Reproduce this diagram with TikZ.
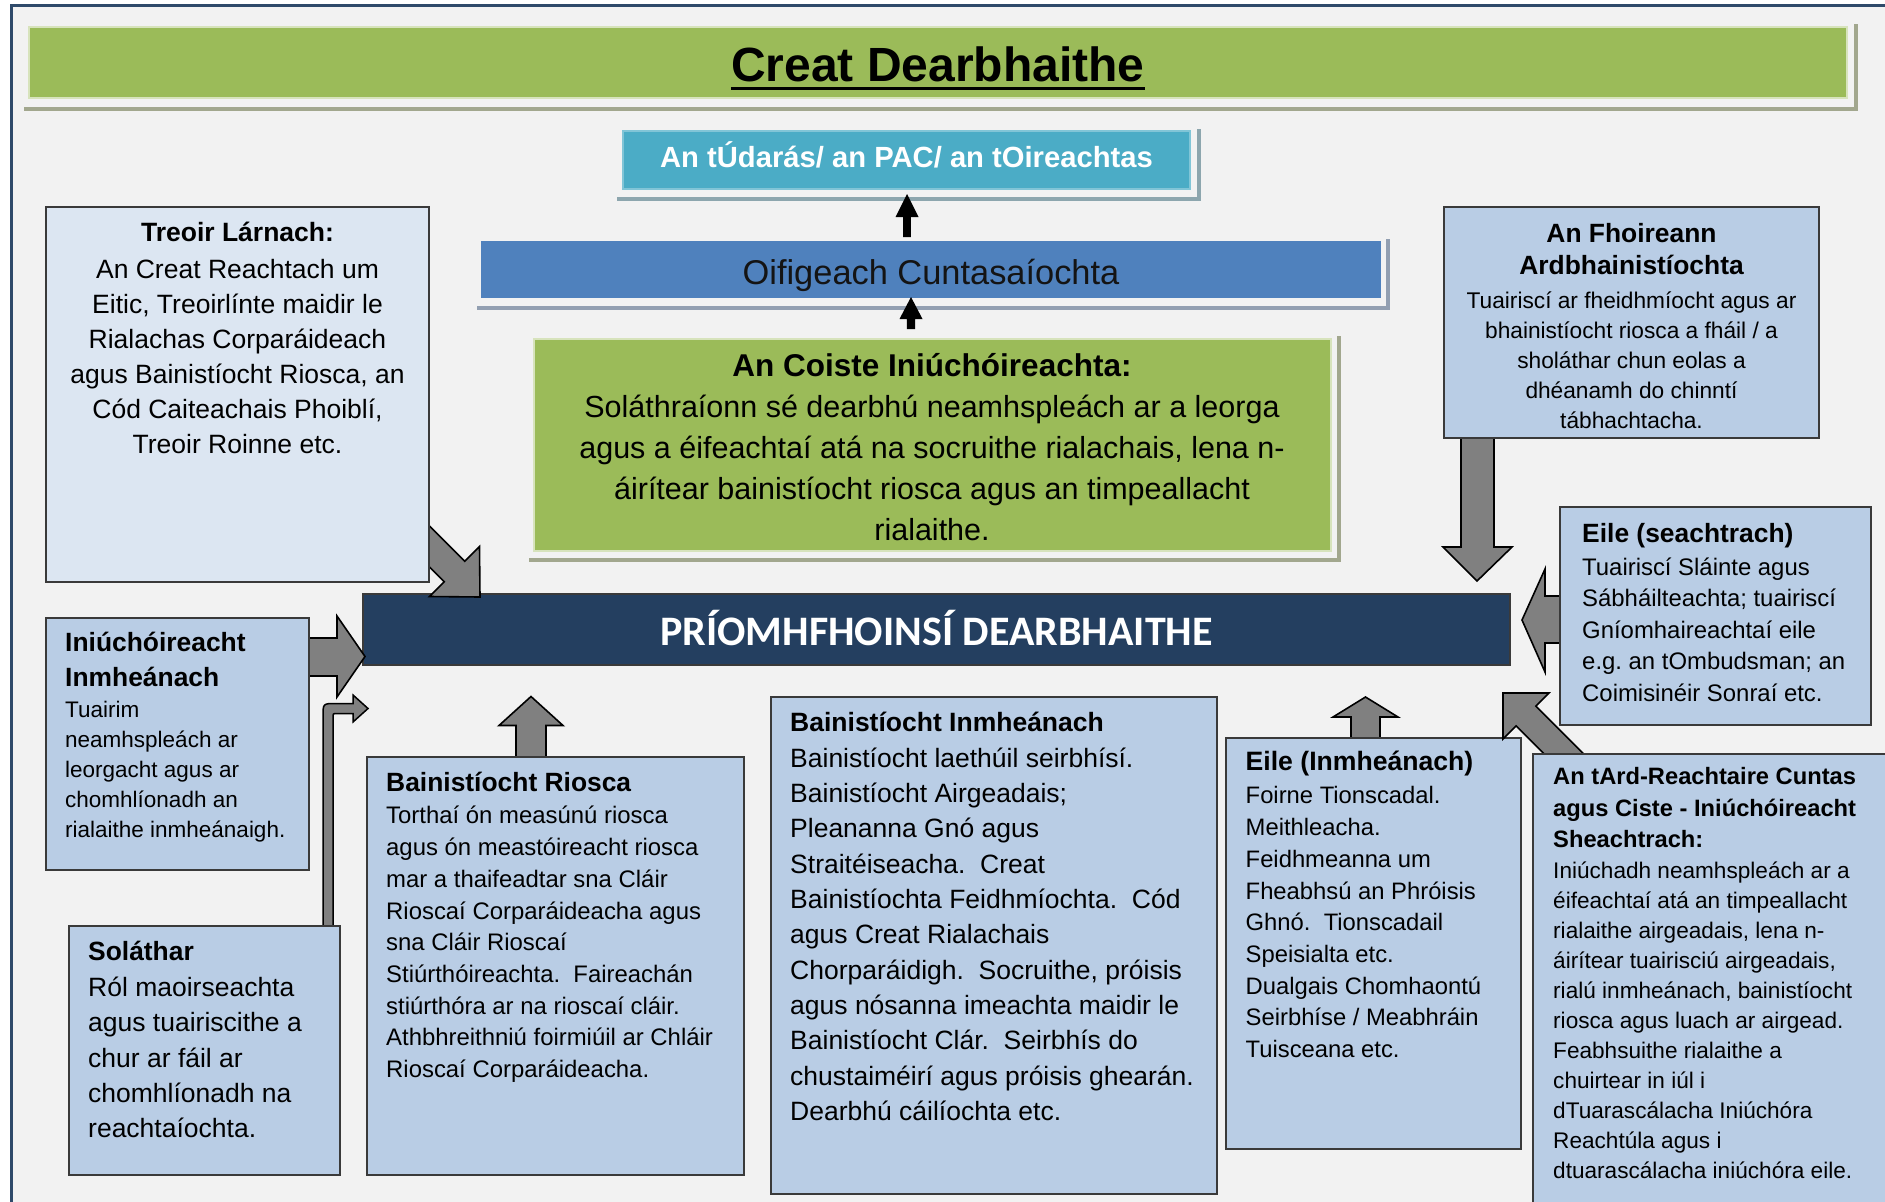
\documentclass[tikz,border=0pt]{standalone}
\usepackage{fontspec}
\setmainfont{Liberation Sans}
\newfontfamily\calibri{Carlito}
\frenchspacing
\definecolor{bg}{HTML}{F2F2F2}
\definecolor{framecol}{HTML}{2F4A6A}
\definecolor{tgreen}{HTML}{9BBB59}
\definecolor{tgreenedge}{HTML}{D7E3BC}
\definecolor{gshadow}{HTML}{A2A78E}
\definecolor{teal}{HTML}{4BACC6}
\definecolor{tshadow}{HTML}{8DA6AE}
\definecolor{oblue}{HTML}{4F81BD}
\definecolor{bshadow}{HTML}{929FB1}
\definecolor{boxblue}{HTML}{B9CDE5}
\definecolor{lightbox}{HTML}{DCE6F2}
\definecolor{navy}{HTML}{243F60}
\definecolor{agray}{HTML}{808080}
\definecolor{boxline}{HTML}{3A3A3A}
\tikzset{
  pbox/.style={draw=boxline, line width=1.5pt, fill=boxblue, anchor=north west, inner sep=0pt, outer sep=0pt},
  lbox/.style={pbox, fill=lightbox},
  garrow/.style={draw=black, line width=1.6pt, fill=agray, line join=miter},
  barrow/.style={fill=black},
  shad/.style={line width=4pt},
  txt/.style={inner sep=0pt, anchor=base west},
  ctxt/.style={inner sep=0pt, anchor=base},
}
\begin{document}
\begin{tikzpicture}[x=1pt,y=-1pt]
\useasboundingbox (0,0) rectangle (1885,1202);
\fill[white] (0,0) rectangle (1885,1202);
\fill[bg] (11,5.5) rectangle (1885,1202);
\draw[framecol, line width=3pt] (11,1202) -- (11,5.5) -- (1885,5.5);

% title bar
\draw[gshadow, shad] (24,108.5) -- (1856,108.5) -- (1856,24);
\node[pbox, fill=tgreen, draw=tgreenedge, minimum width=1818pt, minimum height=71pt] (titlebar) at (29,27) {};
\node[ctxt] (ttl) at (938,81) {\fontsize{48}{56}\selectfont\bfseries Creat Dearbhaithe};
\draw[line width=3pt] ([yshift=-7pt]ttl.base west) -- ([yshift=-7pt]ttl.base east);

% An tUdaras
\draw[tshadow, shad] (617,199) -- (1199,199) -- (1199,129);
\node[pbox, fill=teal, draw=teal!70!white, minimum width=567pt, minimum height=58pt] (udaras) at (623,131) {};
\node[ctxt, text=white] (udaras-t) at (906.5,167.5) {\fontsize{29.2}{34}\selectfont\bfseries An tÚdarás/ an PAC/ an tOireachtas};

% Oifigeach
\draw[bshadow, shad] (477,307.5) -- (1388,307.5) -- (1388,239);
\node[pbox, fill=oblue, draw=oblue, minimum width=898pt, minimum height=55pt] (oifig) at (482,242) {};
\node[ctxt, text=black!92] (oifig-t) at (931,284) {\fontsize{34.4}{40}\selectfont Oifigeach Cuntasaíochta};

% black arrows
\fill[barrow] (903.2,237) -- (903.2,217) -- (895.5,217) -- (907,194) -- (918.5,217) -- (910.8,217) -- (910.8,237) -- cycle;
\fill[barrow] (906.8,329) -- (906.8,319) -- (899.5,319) -- (911,297) -- (922.5,319) -- (915.2,319) -- (915.2,329) -- cycle;

% Coiste
\draw[gshadow, shad] (529,559.5) -- (1338.5,559.5) -- (1338.5,336);
\node[pbox, fill=tgreen, draw=tgreenedge, minimum width=797pt, minimum height=212pt] (coiste) at (534,339) {};
\node[ctxt] (coiste-t) at (932,376) {\fontsize{31.5}{38}\selectfont\bfseries An Coiste Iniúchóireachta:};
\node[ctxt] (coiste-b) at (932,417.6) {\parbox[t]{780pt}{\centering\fontsize{30.5}{40.9}\selectfont Soláthraíonn sé dearbhú neamhspleách ar a leorga\\ agus a éifeachtaí atá na socruithe rialachais, lena n-\\ áirítear bainistíocht riosca agus an timpeallacht\\ rialaithe.}};

% Priomh box
\node[pbox, fill=navy, minimum width=1147pt, minimum height=71pt] (priomh) at (363,594) {};
\node[ctxt, text=white] (priomh-t) at (936.5,645) {\fontsize{42}{50}\selectfont\calibri\bfseries PRÍOMHFHOINSÍ DEARBHAITHE};

% arrow Treoir -> Priomh (down-right)
\draw[garrow] (408.2,504.6) -- (464.8,561.2) -- (479.5,546.5) -- (480,597) -- (429.5,596.5) -- (444.2,581.8) -- (387.6,525.2) -- cycle;
% Treoir box
\node[lbox, minimum width=383pt, minimum height=375pt] (treoir) at (46,207) {};
\node[ctxt] (treoir-t) at (237.5,241.7) {\fontsize{26.5}{32}\selectfont\bfseries Treoir Lárnach:};
\node[ctxt] (treoir-b) at (237.5,278.7) {\parbox[t]{370pt}{\centering\fontsize{26.5}{35}\selectfont An Creat Reachtach um\\ Eitic, Treoirlínte maidir le\\ Rialachas Corparáideach\\ agus Bainistíocht Riosca, an\\ Cód Caiteachais Phoiblí,\\ Treoir Roinne etc.}};

% Fhoireann arrow + box
\draw[garrow] (1461,430) -- (1461,547) -- (1443,547) -- (1477,581) -- (1512,547) -- (1494,547) -- (1494,430) -- cycle;
\node[pbox, minimum width=375pt, minimum height=231pt] (fhoir) at (1444,207) {};
\node[ctxt] (fhoir-t) at (1631.5,242.2) {\parbox[t]{370pt}{\centering\fontsize{26.4}{32.5}\selectfont\bfseries An Fhoireann\\ Ardbhainistíochta}};
\node[ctxt] (fhoir-b) at (1631.5,308.5) {\parbox[t]{370pt}{\centering\fontsize{22.7}{30}\selectfont Tuairiscí ar fheidhmíocht agus ar\\ bhainistíocht riosca a fháil / a\\ sholáthar chun eolas a\\ dhéanamh do chinntí\\ tábhachtacha.}};

% Eile seachtrach arrow + box
\draw[garrow] (1566,596) -- (1545,596) -- (1545,569) -- (1522,620) -- (1545,672) -- (1545,643) -- (1566,643) -- cycle;
\node[pbox, minimum width=311pt, minimum height=218pt] (eiles) at (1560,507) {};
\node[txt] (eiles-t) at (1582,542.5) {\fontsize{26.4}{32}\selectfont\bfseries Eile (seachtrach)};
\node[txt] (eiles-b) at (1582,575.3) {\parbox[t]{300pt}{\raggedright\fontsize{23.9}{31.5}\selectfont Tuairiscí Sláinte agus\\ Sábháilteachta; tuairiscí\\ Gníomhaireachtaí eile\\ e.g. an tOmbudsman; an\\ Coimisinéir Sonraí etc.}};

% Iniuchoireacht arrow + box
\draw[garrow] (300,638) -- (337,638) -- (337,616) -- (365,656.5) -- (337,697) -- (337,676) -- (300,676) -- cycle;
\node[pbox, minimum width=263pt, minimum height=252pt] (iniuch) at (46,618) {};
\node[txt] (iniuch-t) at (65,651.7) {\parbox[t]{250pt}{\raggedright\fontsize{26.4}{35}\selectfont\bfseries Iniúchóireacht\\ Inmheánach}};
\node[txt] (iniuch-b) at (65,717.9) {\parbox[t]{250pt}{\raggedright\fontsize{22.5}{30}\selectfont Tuairim\\ neamhspleách ar\\ leorgacht agus ar\\ chomhlíonadh an\\ rialaithe inmheánaigh.}};

% Solathar bent arrow + box
\draw[garrow, line width=1.5pt] (323,935) -- (323,716) .. controls (323,703.5) .. (336,703.5) -- (353,703.5) -- (353,695) -- (368,708.5) -- (353,722) -- (353,713.5) -- (337,713.5) .. controls (333,713.5) .. (333,717.5) -- (333,935) -- cycle;
\node[pbox, minimum width=271pt, minimum height=249pt] (solathar) at (69,926) {};
\node[txt] (solathar-t) at (88,960.7) {\fontsize{26.4}{32}\selectfont\bfseries Soláthar};
\node[txt] (solathar-b) at (88,996.7) {\parbox[t]{250pt}{\raggedright\fontsize{26.5}{35.2}\selectfont Ról maoirseachta\\ agus tuairiscithe a\\ chur ar fáil ar\\ chomhlíonadh na\\ reachtaíochta.}};

% Riosca arrow + box
\draw[garrow] (516,765) -- (516,725.5) -- (499,725.5) -- (531,696.5) -- (563,725.5) -- (546,725.5) -- (546,765) -- cycle;
\node[pbox, minimum width=377pt, minimum height=418pt] (riosca) at (367,757) {};
\node[txt] (riosca-t) at (386,791.3) {\fontsize{26.4}{32}\selectfont\bfseries Bainistíocht Riosca};
\node[txt] (riosca-b) at (386,823.9) {\parbox[t]{360pt}{\raggedright\fontsize{23.9}{31.7}\selectfont Torthaí ón measúnú riosca\\ agus ón meastóireacht riosca\\ mar a thaifeadtar sna Cláir\\ Rioscaí Corparáideacha agus\\ sna Cláir Rioscaí\\ Stiúrthóireachta.\ \ Faireachán\\ stiúrthóra ar na rioscaí cláir.\\ Athbhreithniú foirmiúil ar Chláir\\ Rioscaí Corparáideacha.}};

% Inmheanach box
\node[pbox, minimum width=446pt, minimum height=497pt] (inmh) at (771,697) {};
\node[txt] (inmh-t) at (790,731.2) {\fontsize{26.5}{32}\selectfont\bfseries Bainistíocht Inmheánach};
\node[txt] (inmh-b) at (790,767.3) {\parbox[t]{430pt}{\raggedright\fontsize{26.5}{35.3}\selectfont Bainistíocht laethúil seirbhísí.\\ Bainistíocht Airgeadais;\\ Pleananna Gnó agus\\ Straitéiseacha.\ \ Creat\\ Bainistíochta Feidhmíochta.\ \ Cód\\ agus Creat Rialachais\\ Chorparáidigh.\ \ Socruithe, próisis\\ agus nósanna imeachta maidir le\\ Bainistíocht Clár.\ \ Seirbhís do\\ chustaiméirí agus próisis ghearán.\\ Dearbhú cáilíochta etc.}};

% Eile Inmheanach arrow + box
\draw[garrow] (1351,745) -- (1351,717) -- (1333,717) -- (1365.5,697) -- (1398,717) -- (1380,717) -- (1380,745) -- cycle;
\node[pbox, minimum width=295pt, minimum height=411pt] (eilei) at (1226,738) {};
\node[txt] (eilei-t) at (1245.5,770.8) {\fontsize{26.6}{32}\selectfont\bfseries Eile (Inmheánach)};
\node[txt] (eilei-b) at (1245.5,803.9) {\parbox[t]{280pt}{\raggedright\fontsize{23.8}{31.7}\selectfont Foirne Tionscadal.\\ Meithleacha.\\ Feidhmeanna um\\ Fheabhsú an Phróisis\\ Ghnó.\ \ Tionscadail\\ Speisialta etc.\\ Dualgais Chomhaontú\\ Seirbhíse / Meabhráin\\ Tuisceana etc.}};

% Ard-Reachtaire arrow + box
\draw[garrow] (1585.4,755.6) -- (1535.9,706.1) -- (1549,693) -- (1503,693) -- (1503,739) -- (1516.1,725.9) -- (1565.6,775.4) -- cycle;
\node[pbox, minimum width=367pt, minimum height=466pt] (ard) at (1533,754) {};
\node[txt] (ard-t) at (1553,784.5) {\parbox[t]{330pt}{\raggedright\fontsize{23.7}{31.7}\selectfont\bfseries An tArd-Reachtaire Cuntas\\ agus Ciste - Iniúchóireacht\\ Sheachtrach:}};
\node[txt] (ard-b) at (1553,878.2) {\parbox[t]{330pt}{\raggedright\fontsize{22.6}{30}\selectfont Iniúchadh neamhspleách ar a\\ éifeachtaí atá an timpeallacht\\ rialaithe airgeadais, lena n-\\ áirítear tuairisciú airgeadais,\\ rialú inmheánach, bainistíocht\\ riosca agus luach ar airgead.\\ Feabhsuithe rialaithe a\\ chuirtear in iúl i\\ dTuarascálacha Iniúchóra\\ Reachtúla agus i\\ dtuarascálacha iniúchóra eile.}};
\end{tikzpicture}
\end{document}
